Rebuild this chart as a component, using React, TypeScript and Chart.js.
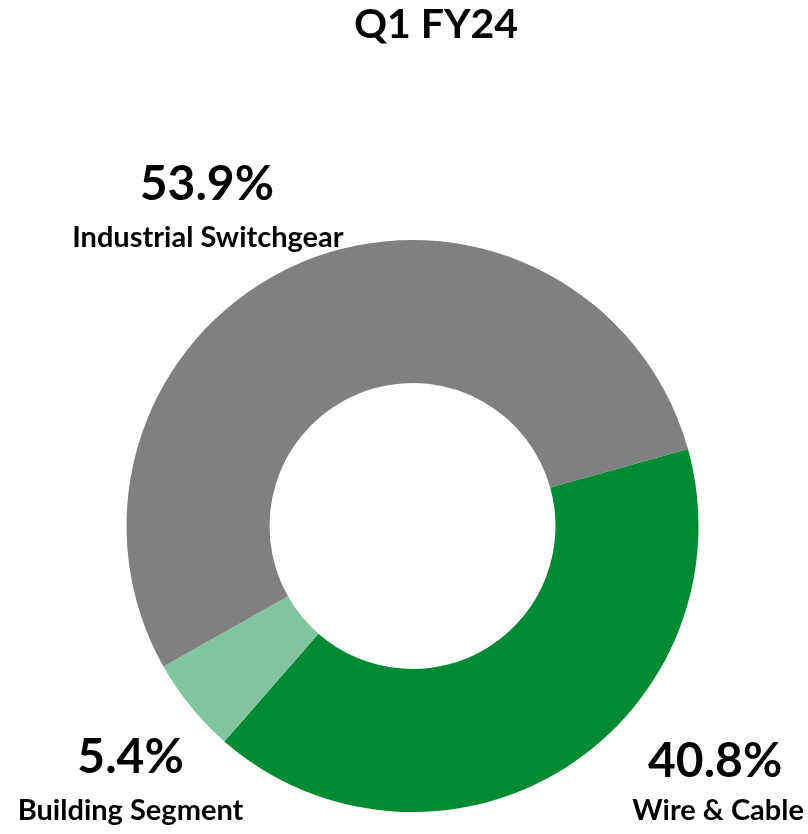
import React, { useEffect, useRef } from "react";
import { Chart, registerables } from "chart.js";

Chart.register(...registerables);

const titleText = "Q1 FY24";
const categories = ["Wire & Cable", "Building Segment", "Industrial Switchgear"];
const shares = [40.8, 5.4, 53.9];
const shareLabels = ["40.8%", "5.4%", "53.9%"];
const sliceColors = ["#008A32", "#80C4A0", "#808080"];

// label anchor offsets relative to doughnut centre, in units of outer radius
const labelOffsets = [
  { dx: 1.058, dy: 0.878, gap: 43, ldx: 3 },
  { dx: -0.986, dy: 0.864, gap: 47, ldx: 0 },
  { dx: -0.719, dy: -1.14, gap: 47, ldx: 1 },
];

const FONT = "Lato, 'Open Sans', sans-serif";

const labelPlugin = {
  id: "labelPlugin",
  afterDraw(chart: any) {
    const ctx = chart.ctx;
    const meta = chart.getDatasetMeta(0);
    const arc0 = meta.data[0];
    const cx = arc0.x;
    const cy = arc0.y;
    const R = arc0.outerRadius;
    ctx.save();
    ctx.fillStyle = "#000000";
    ctx.textAlign = "center";
    ctx.textBaseline = "alphabetic";
    ctx.font = `bold 41px ${FONT}`;
    ctx.fillText(titleText, chart.width / 2 + 32, 38);
    categories.forEach((cat, i) => {
      const o = labelOffsets[i];
      const x = cx + o.dx * R;
      const y = cy + o.dy * R;
      ctx.font = `bold 48px ${FONT}`;
      ctx.fillText(shareLabels[i], x, y);
      ctx.font = `bold 29px ${FONT}`;
      ctx.fillText(cat, x + o.ldx, y + o.gap);
    });
    ctx.restore();
  },
};

export default function App() {
  const ref = useRef<HTMLCanvasElement>(null);
  useEffect(() => {
    if (!ref.current) return;
    const chart = new Chart(ref.current, {
      type: "doughnut",
      data: {
        labels: categories,
        datasets: [
          {
            data: shares,
            backgroundColor: sliceColors,
            borderWidth: 0,
            hoverOffset: 0,
            offset: 0,
          },
        ],
      },
      options: {
        responsive: false,
        animation: false,
        events: [],
        rotation: 74.4,
        cutout: "50%",
        layout: { padding: { left: 126, right: 109, top: 240, bottom: 22 } },
        plugins: {
          legend: { display: false },
          tooltip: { enabled: false },
          title: { display: false },
        },
      },
      plugins: [labelPlugin],
    });
    return () => chart.destroy();
  }, []);
  return (
    <div style={{ position: "absolute", left: 0, top: 0, width: 808, height: 834, background: "#fff" }}>
      <canvas ref={ref} width={808} height={834} style={{ display: "block" }} />
    </div>
  );
}
